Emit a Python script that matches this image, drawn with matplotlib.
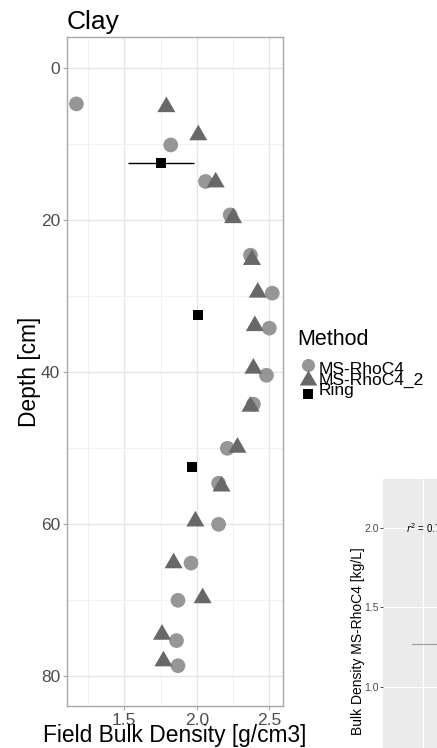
import numpy as np
import matplotlib
matplotlib.use("Agg")
import matplotlib.pyplot as plt
from matplotlib.lines import Line2D

plt.rcParams['font.family'] = ['Liberation Sans', 'DejaVu Sans']

# MS-RhoC4 (circles)
rho_c4_bd = [1.17, 1.82, 2.06, 2.23, 2.37, 2.52, 2.50, 2.48, 2.39, 2.21, 2.15,
             2.15, 1.96, 1.87, 1.86, 1.87]
rho_c4_depth = [4.7, 10.1, 14.9, 19.3, 24.6, 29.6, 34.2, 40.4, 44.2, 50.0, 54.6,
                60.0, 65.1, 70.0, 75.3, 78.6]

# MS-RhoC4_2 (triangles)
rho_c4_2_bd = [1.79, 2.01, 2.13, 2.25, 2.38, 2.42, 2.40, 2.39, 2.37, 2.28, 2.17,
               1.99, 1.84, 2.04, 1.76, 1.77]
rho_c4_2_depth = [5.1, 8.8, 15.0, 19.7, 25.2, 29.5, 33.9, 39.5, 44.5, 49.9, 55.0,
                  59.6, 65.1, 69.7, 74.5, 78.0]

# Ring samples (squares) with x error
ring_bd = [1.755, 2.01, 1.97]
ring_depth = [12.5, 32.5, 52.5]
ring_err = [0.227, 0.0, 0.0]

methods = ["MS-RhoC4", "MS-RhoC4_2", "Ring"]

# partially visible neighbour panel
inset_yticks = [1.0, 1.5, 2.0]
inset_seg_x = [0.935, 1.10]
inset_seg_y = [1.27, 1.27]

c_circle = "#969696"
c_tri = "#686868"
tri = (3, 0, 0)

fig = plt.figure(figsize=(4.37, 7.48), dpi=100)
ax = fig.add_axes([67 / 437, 1 - 706 / 748, 216 / 437, 669 / 748])

ax.scatter(rho_c4_bd, rho_c4_depth, s=112, marker="o", color=c_circle,
           edgecolors="none", zorder=3)
ax.scatter(rho_c4_2_bd, rho_c4_2_depth, s=225, marker=tri, color=c_tri,
           edgecolors="none", zorder=4)
ax.errorbar(ring_bd, ring_depth, xerr=ring_err, fmt="none", ecolor="black",
            elinewidth=1.0, capsize=0, zorder=5)
ax.scatter(ring_bd, ring_depth, s=52, marker="s", color="black",
           edgecolors="none", zorder=6)

ax.set_xlim(1.105, 2.594)
ax.set_ylim(83.9, -4.1)
ax.set_xticks([1.5, 2.0, 2.5])
ax.set_xticks([1.25, 1.75, 2.25], minor=True)
ax.set_yticks([0, 20, 40, 60, 80])
ax.set_yticks([10, 30, 50, 70], minor=True)
ax.grid(which="major", color="#E6E6E6", lw=1.0, zorder=0)
ax.grid(which="minor", color="#F2F2F2", lw=0.7, zorder=0)
ax.set_axisbelow(True)
for s in ax.spines.values():
    s.set_color("#A8A8A8")
    s.set_linewidth(1.0)
ax.tick_params(which="major", length=3, width=0.8, color="#A8A8A8",
               labelsize=12.5, labelcolor="#4D4D4D", pad=2)
ax.tick_params(which="minor", length=0)

ax.set_xlabel("Field Bulk Density [g/cm3]", fontsize=16.4, labelpad=-3)
ax.set_ylabel("Depth [cm]", fontsize=16.4, labelpad=0)
ax.set_title("Clay", fontsize=19, loc="left", pad=6)

# legend
fig.text(297 / 437, 1 - 345 / 748, "Method", fontsize=15.5, ha="left", va="baseline")
key_y = [365, 380, 394]
key_style = [dict(marker="o", markersize=9.4, color=c_circle),
             dict(marker=tri, markersize=14.5, color=c_tri),
             dict(marker="s", markersize=7.2, color="black")]
text_y = [369, 380, 391]
for name, ky, ty, st in zip(methods, key_y, text_y, key_style):
    fig.add_artist(Line2D([308 / 437], [1 - ky / 748], transform=fig.transFigure,
                          linestyle="none", markeredgewidth=0, **st))
    fig.text(319 / 437, 1 - ty / 748, name, fontsize=12.5, ha="left", va="center")

# neighbouring panel, cut off by the frame
ax2 = fig.add_axes([383 / 437, 0, 0.2, 1 - 479 / 748])
ax2.set_facecolor("#EBEBEB")
ax2.set_xlim(0.75, 0.75 + 0.2 * 437 / 159)
ax2.set_ylim(0.616, 2.308)
ax2.set_yticks(inset_yticks)
ax2.set_yticklabels([f"{v:.1f}" for v in inset_yticks])
ax2.set_xticks([1.0])
ax2.grid(color="white", lw=0.8)
ax2.set_axisbelow(True)
ax2.plot(inset_seg_x, inset_seg_y, color="#A0A0A0", lw=0.9)
for s in ax2.spines.values():
    s.set_visible(False)
ax2.tick_params(axis="y", length=2, width=0.6, color="#333333",
                labelsize=7.6, labelcolor="#4D4D4D", pad=1)
ax2.tick_params(axis="x", length=0, labelbottom=False)
ax2.text(406 / 437, 1 - 528 / 748, "$r^2$ = 0.7", transform=fig.transFigure,
         fontsize=7, va="center", ha="left")
fig.text(358 / 437, 1 - 641 / 748, "Bulk Density MS-RhoC4 [kg/L]", rotation=90,
         fontsize=10, ha="center", va="center")

fig.savefig("out.png", dpi=100)
